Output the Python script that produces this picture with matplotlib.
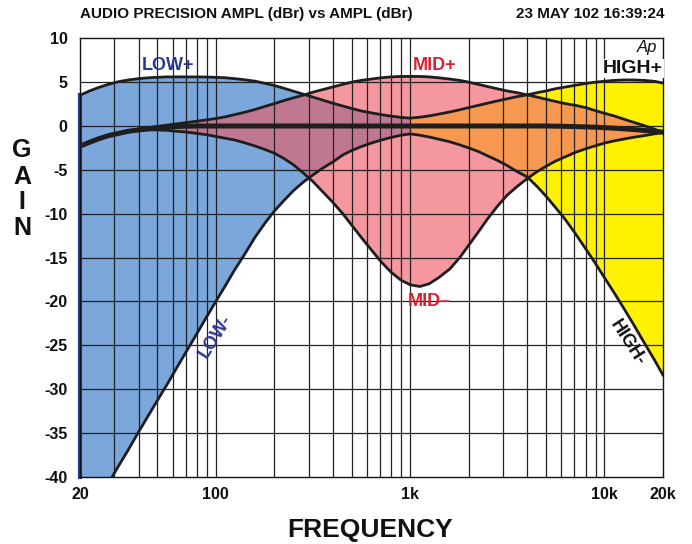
import numpy as np
import matplotlib
matplotlib.use("Agg")
import matplotlib.pyplot as plt
from matplotlib import font_manager

# ---------------- data ----------------
freq = [20, 22.4, 25, 28, 31.5, 35.5, 40, 45, 50, 56, 63, 71, 80, 90,
        100, 112, 125, 140, 160, 180, 200, 224, 250, 280, 315, 355, 400, 450,
        500, 560, 630, 710, 800, 900, 1000, 1120, 1250, 1400, 1600, 1800,
        2000, 2240, 2500, 2800, 3150, 3550, 4000, 4500, 5000, 5600, 6300,
        7100, 8000, 9000, 10000, 11200, 12500, 14000, 16000, 18000, 20000]

flat = [-2.3, -1.85, -1.45, -1.1, -0.85, -0.6, -0.45, -0.3, -0.2, -0.12,
        -0.06, -0.02, 0, 0,
        0, 0, 0, 0, 0, 0, 0, 0, 0, 0, 0, 0, 0, 0,
        0, 0, 0, 0, 0, 0, 0, 0, 0, 0, 0, 0,
        0, 0, 0, 0, 0, 0, 0, 0, 0, -0.02, -0.04,
        -0.07, -0.1, -0.14, -0.19, -0.25, -0.32, -0.4, -0.5, -0.6, -0.7]

# LOW+ / HIGH+ (boost) curve
low_high_boost = [3.5, 4.0, 4.4, 4.75, 5.05, 5.25, 5.4, 5.5, 5.55, 5.6, 5.6,
                  5.6, 5.6, 5.58,
                  5.55, 5.5, 5.4, 5.28, 5.1, 4.85, 4.62, 4.3, 3.98, 3.65,
                  3.3, 2.95, 2.6, 2.28,
                  2.0, 1.72, 1.5, 1.3, 1.12, 0.98, 0.9, 1.0, 1.15, 1.35, 1.6,
                  1.85,
                  2.1, 2.35, 2.6, 2.85, 3.1, 3.35, 3.55, 3.8, 4.0, 4.25, 4.45,
                  4.65, 4.85, 5.0, 5.1, 5.2, 5.25, 5.25, 5.2, 5.1, 4.9]

# LOW- / HIGH- (cut) curve
low_high_cut = [-46.2, -44.4, -42.6, -40.75, -38.8, -36.9, -34.9, -33.0,
                -31.3, -29.5, -27.55, -25.6, -23.65, -21.7,
                -20.0, -18.2, -16.4, -14.7, -12.6, -11.0, -9.7, -8.5, -7.4,
                -6.45, -5.6, -4.8, -4.1, -3.3,
                -2.8, -2.35, -1.95, -1.6, -1.3, -1.05, -0.9, -1.05, -1.25,
                -1.5, -1.8, -2.15,
                -2.5, -2.9, -3.4, -3.9, -4.5, -5.2, -5.8, -6.9, -8.0, -9.3,
                -10.7,
                -12.3, -14.0, -15.7, -17.3, -19.0, -20.7, -22.5, -24.7,
                -26.6, -28.4]

mid_boost = [-2.3, -1.85, -1.45, -1.1, -0.8, -0.55, -0.35, -0.2, -0.05, 0.1,
             0.25, 0.4, 0.55, 0.7,
             0.85, 1.05, 1.3, 1.55, 1.9, 2.25, 2.55, 2.9, 3.2, 3.5, 3.85,
             4.15, 4.45, 4.75,
             5.0, 5.2, 5.35, 5.5, 5.6, 5.65, 5.65, 5.65, 5.6, 5.5, 5.35,
             5.2,
             5.0, 4.75, 4.5, 4.25, 4.0, 3.8, 3.55, 3.3, 3.05, 2.8, 2.55,
             2.35, 2.1, 1.75, 1.45, 1.15, 0.8, 0.45, 0.05, -0.35, -0.7]

mid_cut = [-2.3, -1.85, -1.45, -1.1, -0.85, -0.65, -0.5, -0.45, -0.45, -0.5,
           -0.6, -0.7, -0.85, -1.0,
           -1.2, -1.4, -1.6, -1.9, -2.3, -2.7, -3.1, -3.7, -4.4, -5.3, -6.3,
           -7.5, -8.7, -10.0,
           -11.3, -12.7, -14.1, -15.5, -16.7, -17.6, -18.1, -18.3, -18.0,
           -17.3, -16.3, -15.0,
           -13.6, -12.1, -10.6, -9.2, -7.9, -6.9, -6.0, -5.2, -4.6, -4.0,
           -3.5, -3.0, -2.6, -2.25, -1.95, -1.7, -1.5, -1.3, -1.1, -0.9,
           -0.75]

yticks = [10, 5, 0, -5, -10, -15, -20, -25, -30, -35, -40]
xticks = [20, 100, 1000, 10000, 20000]
xticklabels = ["20", "100", "1k", "10k", "20k"]
grid_freqs = [30, 40, 50, 60, 70, 80, 90, 100, 200, 300, 400, 500, 600, 700,
              800, 900, 1000, 2000, 3000, 4000, 5000, 6000, 7000, 8000, 9000,
              10000]

# ---------------- style ----------------
names = {fn.name for fn in font_manager.fontManager.ttflist}
FONT = "Liberation Sans Narrow" if "Liberation Sans Narrow" in names else "Liberation Sans"
plt.rcParams["font.family"] = [FONT, "DejaVu Sans"]

BLUE = "#7ba7db"
PINK = "#f5979f"
YELLOW = "#fff200"
MAUVE = "#c07892"
ORANGE = "#f6984f"
DARKBLUE = "#2b3990"
RED = "#d7202f"

f = np.array(freq, dtype=float)
b = np.array(low_high_boost)
c = np.array(low_high_cut)
mp = np.array(mid_boost)
mc = np.array(mid_cut)

fig = plt.figure(figsize=(6.92, 5.44), dpi=100)
ax = fig.add_axes([80 / 692, 1 - 476.8 / 544, 583 / 692, 438.5 / 544])
ax.set_xscale("log")
ax.set_xlim(20, 20000)
ax.set_ylim(-40, 10)

low = f <= 1000
high = f >= 1000

# base bands
ax.fill_between(f, c, b, where=low, color=BLUE, lw=0, zorder=1)
ax.fill_between(f, c, b, where=high, color=YELLOW, lw=0, zorder=1)
ax.fill_between(f, mc, mp, color=PINK, lw=0, zorder=2)
# overlaps
top = np.minimum(b, mp)
bot = np.maximum(c, mc)
ax.fill_between(f, bot, top, where=(top > bot) & low, interpolate=True,
                color=MAUVE, lw=0, zorder=3)
ax.fill_between(f, bot, top, where=(top > bot) & high, interpolate=True,
                color=ORANGE, lw=0, zorder=3)

# grid
for g in grid_freqs:
    ax.axvline(g, color="#222222", lw=0.9, zorder=4)
for y in yticks[1:-1]:
    ax.axhline(y, color="#222222", lw=0.9, zorder=4)

# curves
lc = "#1e1e1e"
for series in (b, c, mp, mc):
    ax.plot(f, series, color=lc, lw=2.0, zorder=6, solid_joinstyle="round")
ax.plot(f, flat, color=lc, lw=3.6, zorder=7, solid_joinstyle="round")
# dark blue left edge of the low band
ax.plot([f[0], f[0]], [-40, b[0]], color=DARKBLUE, lw=3, zorder=8, clip_on=False)

for s in ax.spines.values():
    s.set_color("#111111")
    s.set_linewidth(1.0)
    s.set_zorder(9)

ax.set_yticks(yticks)
ax.set_yticklabels([str(v) for v in yticks])
ax.set_xticks(xticks)
ax.set_xticklabels(xticklabels)
ax.minorticks_off()
ax.tick_params(axis="both", length=0, labelsize=11.5)
ax.tick_params(axis="y", pad=9)
ax.tick_params(axis="x", pad=7)
for lab in ax.get_xticklabels() + ax.get_yticklabels():
    lab.set_fontweight("bold")
    lab.set_color("#111111")

# curve labels
ax.text(57, 6.9, "LOW+", color=DARKBLUE, fontsize=13, fontweight="bold",
        ha="center", va="center", zorder=10)
ax.text(1330, 6.85, "MID+", color=RED, fontsize=13, fontweight="bold",
        ha="center", va="center", zorder=10)
ax.text(14000, 6.55, "HIGH+", color="#111111", fontsize=14, fontweight="bold",
        ha="center", va="center", zorder=10,
        bbox=dict(boxstyle="square,pad=0.05", fc="white", ec="none"))
ax.text(16500, 8.9, "Ap", color="#111111", fontsize=12, fontstyle="italic",
        ha="center", va="center", zorder=10,
        bbox=dict(boxstyle="square,pad=0.05", fc="white", ec="none"))
ax.text(100, -24.0, "LOW-", color=DARKBLUE, fontsize=13, fontweight="bold",
        ha="center", va="center", rotation=58, zorder=10)
ax.text(1250, -20.0, "MID\u2013", color=RED, fontsize=13, fontweight="bold",
        ha="center", va="center", zorder=10)
ax.text(13100, -24.7, "HIGH-", color="#111111", fontsize=13, fontweight="bold",
        ha="center", va="center", rotation=-57, zorder=10)

# header
fig.text(80 / 692, 1 - 14 / 544, "AUDIO PRECISION AMPL (dBr) vs AMPL (dBr)",
         fontsize=11, fontweight="bold", color="#111111", ha="left", va="center")
fig.text(665 / 692, 1 - 14 / 544, "23 MAY 102 16:39:24",
         fontsize=11, fontweight="bold", color="#111111", ha="right", va="center")

# axis titles
for ch, yp in zip("GAIN", [150, 177, 202, 228]):
    fig.text(22 / 692, 1 - yp / 544, ch, fontsize=18, fontweight="bold",
             color="#111111", ha="center", va="center")
fig.text(370 / 692, 1 - 530 / 544, "FREQUENCY", fontsize=19, fontweight="bold",
         color="#111111", ha="center", va="center")

fig.savefig("out.png", dpi=100)
